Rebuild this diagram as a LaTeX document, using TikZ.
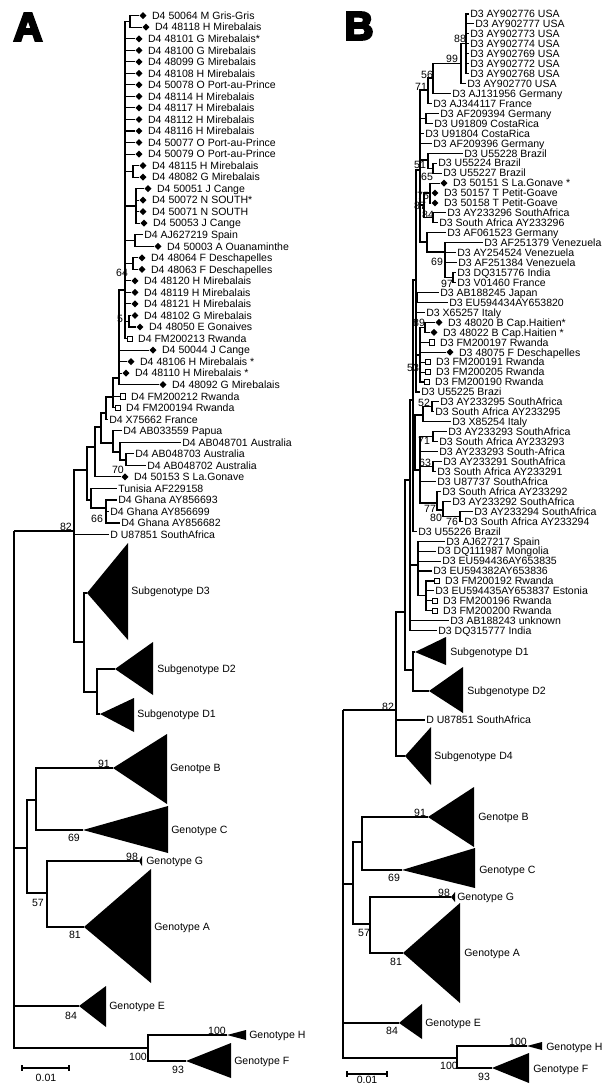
\documentclass[tikz,border=0pt]{standalone}
\usepackage{fontspec}
\setmainfont{Liberation Sans}
\usetikzlibrary{positioning,shapes.geometric}

\begin{document}
\begin{tikzpicture}[x=0.75pt,y=-0.75pt]
\tikzset{
  leaf/.style={anchor=west,inner sep=0.75pt,text height=5.7pt,text depth=0pt,font=\fontsize{7.9}{9}\selectfont},
  boot/.style={inner sep=0pt,text height=5.7pt,text depth=0pt,font=\fontsize{7.9}{9}\selectfont},
  hapmark/.style={diamond,fill=black,inner sep=0pt,minimum width=5.4pt,minimum height=5.4pt},
  rwmark/.style={rectangle,draw=black,line width=0.45pt,fill=white,inner sep=0pt,minimum size=3.9pt},
  branch/.style={draw=black,line width=0.8pt},
  clade/.style={fill=black},
  panel/.style={inner sep=0pt,font=\fontsize{30}{30}\selectfont\bfseries}
}
\useasboundingbox (0,0) rectangle (611,1084);
% panel A
\node[panel] (a_lbl) at (28,27) {\special{pdf:literal direct 2 Tr 1.8 w}A\special{pdf:literal direct 0 Tr 0.4 w}};
\node[hapmark] (a_m0) at (143,15.7) {};
\node[leaf,right=3pt of a_m0] (a_t0) {D4 50064 M Gris-Gris};
\node[hapmark] (a_m1) at (146,27.2) {};
\node[leaf,right=3pt of a_m1] (a_t1) {D4 48118 H Mirebalais};
\node[hapmark] (a_m2) at (139,38.8) {};
\node[leaf,right=3pt of a_m2] (a_t2) {D4 48101 G Mirebalais*};
\node[hapmark] (a_m3) at (139,50.3) {};
\node[leaf,right=3pt of a_m3] (a_t3) {D4 48100 G Mirebalais};
\node[hapmark] (a_m4) at (139,61.8) {};
\node[leaf,right=3pt of a_m4] (a_t4) {D4 48099 G Mirebalais};
\node[hapmark] (a_m5) at (139,73.4) {};
\node[leaf,right=3pt of a_m5] (a_t5) {D4 48108 H Mirebalais};
\node[hapmark] (a_m6) at (139,84.9) {};
\node[leaf,right=3pt of a_m6] (a_t6) {D4 50078 O Port-au-Prince};
\node[hapmark] (a_m7) at (139,96.4) {};
\node[leaf,right=3pt of a_m7] (a_t7) {D4 48114 H Mirebalais};
\node[hapmark] (a_m8) at (139,107.9) {};
\node[leaf,right=3pt of a_m8] (a_t8) {D4 48117 H Mirebalais};
\node[hapmark] (a_m9) at (139,119.5) {};
\node[leaf,right=3pt of a_m9] (a_t9) {D4 48112 H Mirebalais};
\node[hapmark] (a_m10) at (139,131.0) {};
\node[leaf,right=3pt of a_m10] (a_t10) {D4 48116 H Mirebalais};
\node[hapmark] (a_m11) at (139,142.5) {};
\node[leaf,right=3pt of a_m11] (a_t11) {D4 50077 O Port-au-Prince};
\node[hapmark] (a_m12) at (139,154.1) {};
\node[leaf,right=3pt of a_m12] (a_t12) {D4 50079 O Port-au-Prince};
\node[hapmark] (a_m13) at (143,165.6) {};
\node[leaf,right=3pt of a_m13] (a_t13) {D4 48115 H Mirebalais};
\node[hapmark] (a_m14) at (143,177.1) {};
\node[leaf,right=3pt of a_m14] (a_t14) {D4 48082 G Mirebalais};
\node[hapmark] (a_m15) at (148,188.7) {};
\node[leaf,right=3pt of a_m15] (a_t15) {D4 50051 J Cange};
\node[hapmark] (a_m16) at (143,200.2) {};
\node[leaf,right=3pt of a_m16] (a_t16) {D4 50072 N SOUTH*};
\node[hapmark] (a_m17) at (143,211.7) {};
\node[leaf,right=3pt of a_m17] (a_t17) {D4 50071 N SOUTH};
\node[hapmark] (a_m18) at (144,223.2) {};
\node[leaf,right=3pt of a_m18] (a_t18) {D4 50053 J Cange};
\node[leaf] (a_t19) at (143,234.8) {D4 AJ627219 Spain};
\node[hapmark] (a_m20) at (158,246.3) {};
\node[leaf,right=3pt of a_m20] (a_t20) {D4 50003 A Ouanaminthe};
\node[hapmark] (a_m21) at (142,257.8) {};
\node[leaf,right=3pt of a_m21] (a_t21) {D4 48064 F Deschapelles};
\node[hapmark] (a_m22) at (142,269.4) {};
\node[leaf,right=3pt of a_m22] (a_t22) {D4 48063 F Deschapelles};
\node[hapmark] (a_m23) at (135,280.9) {};
\node[leaf,right=3pt of a_m23] (a_t23) {D4 48120 H Mirebalais};
\node[hapmark] (a_m24) at (135,292.4) {};
\node[leaf,right=3pt of a_m24] (a_t24) {D4 48119 H Mirebalais};
\node[hapmark] (a_m25) at (135,303.9) {};
\node[leaf,right=3pt of a_m25] (a_t25) {D4 48121 H Mirebalais};
\node[hapmark] (a_m26) at (135,315.5) {};
\node[leaf,right=3pt of a_m26] (a_t26) {D4 48102 G Mirebalais};
\node[hapmark] (a_m27) at (140,327.0) {};
\node[leaf,right=3pt of a_m27] (a_t27) {D4 48050 E Gonaives};
\node[rwmark] (a_s28) at (130,338.5) {};
\node[leaf,right=3pt of a_s28] (a_t28) {D4 FM200213 Rwanda};
\node[hapmark] (a_m29) at (153,350.1) {};
\node[leaf,right=3pt of a_m29] (a_t29) {D4 50044 J Cange};
\node[hapmark] (a_m30) at (131,361.6) {};
\node[leaf,right=3pt of a_m30] (a_t30) {D4 48106 H Mirebalais *};
\node[hapmark] (a_m31) at (126,373.1) {};
\node[leaf,right=3pt of a_m31] (a_t31) {D4 48110 H Mirebalais *};
\node[hapmark] (a_m32) at (163,384.7) {};
\node[leaf,right=3pt of a_m32] (a_t32) {D4 48092 G Mirebalais};
\node[rwmark] (a_s33) at (123,396.2) {};
\node[leaf,right=3pt of a_s33] (a_t33) {D4 FM200212 Rwanda};
\node[rwmark] (a_s34) at (118,407.7) {};
\node[leaf,right=3pt of a_s34] (a_t34) {D4 FM200194 Rwanda};
\node[leaf] (a_t35) at (108,419.2) {D4 X75662 France};
\node[leaf] (a_t36) at (122,430.8) {D4 AB033559 Papua};
\node[leaf] (a_t37) at (181,442.3) {D4 AB048701 Australia};
\node[leaf] (a_t38) at (134,453.8) {D4 AB048703 Australia};
\node[leaf] (a_t39) at (146,465.4) {D4 AB048702 Australia};
\node[hapmark] (a_m40) at (125,476.9) {};
\node[leaf,right=3pt of a_m40] (a_t40) {D4 50153 S La.Gonave};
\node[leaf] (a_t41) at (117,488.4) {Tunisia AF229158};
\node[leaf] (a_t42) at (117,500.0) {D4 Ghana AY856693};
\node[leaf] (a_t43) at (109,511.5) {D4 Ghana AY856699};
\node[leaf] (a_t44) at (120,523.0) {D4 Ghana AY856682};
\node[leaf] (a_t45) at (109,534.6) {D U87851 SouthAfrica};
\coordinate (a_n_gg) at (130,21.4);
\coordinate (a_n_mg) at (133,171.4);
\coordinate (a_n_cg) at (136,206);
\coordinate (a_n_sp) at (135,240.5);
\coordinate (a_n_de) at (133,263.6);
\coordinate (a_n_go) at (129,321.2);
\coordinate (a_n1) at (125,290);
\coordinate (a_n2) at (119,378);
\coordinate (a_n3) at (113,397);
\coordinate (a_n4) at (106,413);
\coordinate (a_n5) at (113,443);
\coordinate (a_n_au) at (120,452);
\coordinate (a_n_au2) at (126,460);
\coordinate (a_n6) at (101,427);
\coordinate (a_n7) at (95,447);
\coordinate (a_n_gh) at (106,508);
\coordinate (a_n9) at (91,500);
\coordinate (a_n8) at (87,470);
\coordinate (a_n_d) at (74,531);
\coordinate (a_n_d3x) at (84,642);
\coordinate (a_n_d21) at (97,692);
\coordinate (a_root) at (14,531);
\coordinate (a_n_bcag) at (27,848);
\coordinate (a_n_bc) at (36,800);
\coordinate (a_n_ag) at (47,893);
\coordinate (a_n_hf) at (148,1048);
\coordinate (a_c_d3) at (87,593);
\coordinate (a_c_d2) at (115,669);
\coordinate (a_c_d1) at (100,714);
\coordinate (a_c_b) at (113,768);
\coordinate (a_c_c) at (83,830);
\coordinate (a_c_g) at (139,861);
\coordinate (a_c_a) at (84,927);
\coordinate (a_c_e) at (79,1006);
\coordinate (a_c_h) at (227,1035);
\coordinate (a_c_f) at (186,1061);
\fill[clade] (a_c_d3) -- (128,543) -- (128,640) -- cycle;
\fill[clade] (a_c_d2) -- (153,642) -- (153,695) -- cycle;
\fill[clade] (a_c_d1) -- (134,698) -- (134,732) -- cycle;
\fill[clade] (a_c_b) -- (167,734) -- (167,804) -- cycle;
\fill[clade] (a_c_c) -- (168,806) -- (168,853) -- cycle;
\fill[clade] (a_c_g) -- (142,856) -- (142,866) -- cycle;
\fill[clade] (a_c_a) -- (151,869) -- (151,983) -- cycle;
\fill[clade] (a_c_e) -- (106,986) -- (106,1027) -- cycle;
\fill[clade] (a_c_h) -- (246,1030) -- (246,1040) -- cycle;
\fill[clade] (a_c_f) -- (231,1043) -- (231,1078) -- cycle;
\node[leaf] (a_g_d3) at (130,591) {Subgenotype D3};
\node[leaf] (a_g_d2) at (156,669) {Subgenotype D2};
\node[leaf] (a_g_d1) at (136,714) {Subgenotype D1};
\node[leaf] (a_g_b) at (169,768) {Genotpe B};
\node[leaf] (a_g_c) at (170,830) {Genotype C};
\node[leaf] (a_g_g) at (145,861) {Genotype G};
\node[leaf] (a_g_a) at (153,927) {Genotype A};
\node[leaf] (a_g_e) at (108,1006) {Genotype E};
\node[leaf] (a_g_h) at (248,1035) {Genotype H};
\node[leaf] (a_g_f) at (233,1061) {Genotype F};
\node[boot] (a_b_64) at (122,273) {64};
\node[boot] (a_b_5) at (120,319) {5};
\node[boot] (a_b_70) at (118,470) {70};
\node[boot] (a_b_66) at (97,519) {66};
\node[boot] (a_b_82) at (66,527) {82};
\node[boot] (a_b_91) at (104,764) {91};
\node[boot] (a_b_69) at (74,838) {69};
\node[boot] (a_b_98) at (132,857) {98};
\node[boot] (a_b_57) at (38,903) {57};
\node[boot] (a_b_81) at (75,935) {81};
\node[boot] (a_b_84) at (71,1016) {84};
\node[boot] (a_b_100h) at (217,1031) {100};
\node[boot] (a_b_100hf) at (138,1057) {100};
\node[boot] (a_b_93) at (178,1070) {93};
\draw[branch] (a_n_gg) |- (a_m0.west);
\draw[branch] (a_n_gg) |- (a_m1.west);
\draw[branch] (a_n_mg) |- (a_m13.west);
\draw[branch] (a_n_mg) |- (a_m14.west);
\draw[branch] (a_n_cg) |- (a_m15.west);
\draw[branch] (a_n_cg) |- (a_m16.west);
\draw[branch] (a_n_cg) |- (a_m17.west);
\draw[branch] (a_n_cg) |- (a_m18.west);
\draw[branch] (a_n_sp) |- (a_t19.west);
\draw[branch] (a_n_sp) |- (a_m20.west);
\draw[branch] (a_n_de) |- (a_m21.west);
\draw[branch] (a_n_de) |- (a_m22.west);
\draw[branch] (a_n_go) |- (a_m26.west);
\draw[branch] (a_n_go) |- (a_m27.west);
\draw[branch] (a_n1) |- (a_n_gg);
\draw[branch] (a_n1) |- (a_m2.west);
\draw[branch] (a_n1) |- (a_m3.west);
\draw[branch] (a_n1) |- (a_m4.west);
\draw[branch] (a_n1) |- (a_m5.west);
\draw[branch] (a_n1) |- (a_m6.west);
\draw[branch] (a_n1) |- (a_m7.west);
\draw[branch] (a_n1) |- (a_m8.west);
\draw[branch] (a_n1) |- (a_m9.west);
\draw[branch] (a_n1) |- (a_m10.west);
\draw[branch] (a_n1) |- (a_m11.west);
\draw[branch] (a_n1) |- (a_m12.west);
\draw[branch] (a_n1) |- (a_n_mg);
\draw[branch] (a_n1) |- (a_n_cg);
\draw[branch] (a_n1) |- (a_n_sp);
\draw[branch] (a_n1) |- (a_n_de);
\draw[branch] (a_n1) |- (a_m23.west);
\draw[branch] (a_n1) |- (a_m24.west);
\draw[branch] (a_n1) |- (a_m25.west);
\draw[branch] (a_n1) |- (a_n_go);
\draw[branch] (a_n1) |- (a_s28.west);
\draw[branch] (a_n2) |- (a_n1);
\draw[branch] (a_n2) |- (a_m29.west);
\draw[branch] (a_n2) |- (a_m30.west);
\draw[branch] (a_n2) |- (a_m31.west);
\draw[branch] (a_n2) |- (a_m32.west);
\draw[branch] (a_n3) |- (a_n2);
\draw[branch] (a_n3) |- (a_s33.west);
\draw[branch] (a_n3) |- (a_s34.west);
\draw[branch] (a_n4) |- (a_n3);
\draw[branch] (a_n4) |- (a_t35.west);
\draw[branch] (a_n_au2) |- (a_t38.west);
\draw[branch] (a_n_au2) |- (a_t39.west);
\draw[branch] (a_n_au) |- (a_t37.west);
\draw[branch] (a_n_au) |- (a_n_au2);
\draw[branch] (a_n5) |- (a_t36.west);
\draw[branch] (a_n5) |- (a_n_au);
\draw[branch] (a_n6) |- (a_n4);
\draw[branch] (a_n6) |- (a_n5);
\draw[branch] (a_n7) |- (a_n6);
\draw[branch] (a_n7) |- (a_m40.west);
\draw[branch] (a_n_gh) |- (a_t42.west);
\draw[branch] (a_n_gh) |- (a_t43.west);
\draw[branch] (a_n_gh) |- (a_t44.west);
\draw[branch] (a_n9) |- (a_t41.west);
\draw[branch] (a_n9) |- (a_n_gh);
\draw[branch] (a_n8) |- (a_n7);
\draw[branch] (a_n8) |- (a_n9);
\draw[branch] (a_n_d) |- (a_n8);
\draw[branch] (a_n_d) |- (a_t45.west);
\draw[branch] (a_n_d) |- (a_n_d3x);
\draw[branch] (a_n_d3x) |- (a_c_d3);
\draw[branch] (a_n_d3x) |- (a_n_d21);
\draw[branch] (a_n_d21) |- (a_c_d2);
\draw[branch] (a_n_d21) |- (a_c_d1);
\draw[branch] (a_n_bc) |- (a_c_b);
\draw[branch] (a_n_bc) |- (a_c_c);
\draw[branch] (a_n_ag) |- (a_c_g);
\draw[branch] (a_n_ag) |- (a_c_a);
\draw[branch] (a_n_bcag) |- (a_n_bc);
\draw[branch] (a_n_bcag) |- (a_n_ag);
\draw[branch] (a_n_hf) |- (a_c_h);
\draw[branch] (a_n_hf) |- (a_c_f);
\draw[branch] (a_root) |- (a_n_d);
\draw[branch] (a_root) |- (a_n_bcag);
\draw[branch] (a_root) |- (a_c_e);
\draw[branch] (a_root) |- (a_n_hf);
\coordinate (a_sb_l) at (22,1068);
\coordinate (a_sb_r) at (69,1068);
\node[boot] (a_sb_t) at (46,1078) {0.01};
\draw[branch] (a_sb_l) -- (a_sb_r);
\draw[branch] (a_sb_l) ++(0,-3) -- ++(0,6);
\draw[branch] (a_sb_r) ++(0,-3) -- ++(0,6);
% panel B
\node[panel] (b_lbl) at (359,26) {\special{pdf:literal direct 2 Tr 1.8 w}B\special{pdf:literal direct 0 Tr 0.4 w}};
\node[leaf] (b_t0) at (469,14.0) {D3 AY902776 USA};
\node[leaf] (b_t1) at (474,23.9) {D3 AY902777 USA};
\node[leaf] (b_t2) at (469,33.9) {D3 AY902773 USA};
\node[leaf] (b_t3) at (469,43.8) {D3 AY902774 USA};
\node[leaf] (b_t4) at (469,53.8) {D3 AY902769 USA};
\node[leaf] (b_t5) at (469,63.7) {D3 AY902772 USA};
\node[leaf] (b_t6) at (469,73.7) {D3 AY902768 USA};
\node[leaf] (b_t7) at (466,83.6) {D3 AY902770 USA};
\node[leaf] (b_t8) at (451,93.6) {D3 AJ131956 Germany};
\node[leaf] (b_t9) at (432,103.5) {D3 AJ344117 France};
\node[leaf] (b_t10) at (439,113.5) {D3 AF209394 Germany};
\node[leaf] (b_t11) at (433,123.4) {D3 U91809 CostaRica};
\node[leaf] (b_t12) at (424,133.4) {D3 U91804 CostaRica};
\node[leaf] (b_t13) at (432,143.3) {D3 AF209396 Germany};
\node[leaf] (b_t14) at (463,153.3) {D3 U55228 Brazil};
\node[leaf] (b_t15) at (437,163.2) {D3 U55224 Brazil};
\node[leaf] (b_t16) at (442,173.2) {D3 U55227 Brazil};
\node[hapmark] (b_m17) at (444,183.1) {};
\node[leaf,right=3pt of b_m17] (b_t17) {D3 50151 S La.Gonave *};
\node[hapmark] (b_m18) at (435,193.0) {};
\node[leaf,right=3pt of b_m18] (b_t18) {D3 50157 T Petit-Goave};
\node[hapmark] (b_m19) at (435,203.0) {};
\node[leaf,right=3pt of b_m19] (b_t19) {D3 50158 T Petit-Goave};
\node[leaf] (b_t20) at (446,212.9) {D3 AY233296 SouthAfrica};
\node[leaf] (b_t21) at (438,222.9) {D3 South Africa AY233296};
\node[leaf] (b_t22) at (446,232.8) {D3 AF061523 Germany};
\node[leaf] (b_t23) at (483,242.8) {D3 AF251379 Venezuela};
\node[leaf] (b_t24) at (456,252.7) {D3 AY254524 Venezuela};
\node[leaf] (b_t25) at (457,262.7) {D3 AF251384 Venezuela};
\node[leaf] (b_t26) at (456,272.6) {D3 DQ315776 India};
\node[leaf] (b_t27) at (456,282.6) {D3 V01460 France};
\node[leaf] (b_t28) at (439,292.5) {D3 AB188245 Japan};
\node[leaf] (b_t29) at (448,302.5) {D3 EU594434AY653820};
\node[leaf] (b_t30) at (425,312.4) {D3 X65257 Italy};
\node[hapmark] (b_m31) at (439,322.4) {};
\node[leaf,right=3pt of b_m31] (b_t31) {D3 48020 B Cap.Haitien*};
\node[hapmark] (b_m32) at (434,332.3) {};
\node[leaf,right=3pt of b_m32] (b_t32) {D3 48022 B Cap.Haitien *};
\node[rwmark] (b_s33) at (432,342.3) {};
\node[leaf,right=3pt of b_s33] (b_t33) {D3 FM200197 Rwanda};
\node[hapmark] (b_m34) at (450,352.2) {};
\node[leaf,right=3pt of b_m34] (b_t34) {D3 48075 F Deschapelles};
\node[rwmark] (b_s35) at (428,362.1) {};
\node[leaf,right=3pt of b_s35] (b_t35) {D3 FM200191 Rwanda};
\node[rwmark] (b_s36) at (428,372.1) {};
\node[leaf,right=3pt of b_s36] (b_t36) {D3 FM200205 Rwanda};
\node[rwmark] (b_s37) at (427,382.0) {};
\node[leaf,right=3pt of b_s37] (b_t37) {D3 FM200190 Rwanda};
\node[leaf] (b_t38) at (420,392.0) {D3 U55225 Brazi};
\node[leaf] (b_t39) at (439,401.9) {D3 AY233295 SouthAfrica};
\node[leaf] (b_t40) at (434,411.9) {D3 South Africa AY233295};
\node[leaf] (b_t41) at (451,421.8) {D3 X85254 Italy};
\node[leaf] (b_t42) at (447,431.8) {D3 AY233293 SouthAfrica};
\node[leaf] (b_t43) at (438,441.7) {D3 South Africa AY233293};
\node[leaf] (b_t44) at (438,451.7) {D3 AY233293 South-Africa};
\node[leaf] (b_t45) at (442,461.6) {D3 AY233291 SouthAfrica};
\node[leaf] (b_t46) at (436,471.6) {D3 South Africa AY233291};
\node[leaf] (b_t47) at (436,481.5) {D3 U87737 SouthAfrica};
\node[leaf] (b_t48) at (441,491.5) {D3 South Africa AY233292};
\node[leaf] (b_t49) at (451,501.4) {D3 AY233292 SouthAfrica};
\node[leaf] (b_t50) at (473,511.4) {D3 AY233294 SouthAfrica};
\node[leaf] (b_t51) at (463,521.3) {D3 South Africa AY233294};
\node[leaf] (b_t52) at (417,531.2) {D3 U55226 Brazil};
\node[leaf] (b_t53) at (445,541.2) {D3 AJ627217 Spain};
\node[leaf] (b_t54) at (436,551.1) {D3 DQ111987 Mongolia};
\node[leaf] (b_t55) at (441,561.1) {D3 EU594436AY653835};
\node[leaf] (b_t56) at (432,571.0) {D3 EU594382AY653836};
\node[rwmark] (b_s57) at (437,581.0) {};
\node[leaf,right=3pt of b_s57] (b_t57) {D3 FM200192 Rwanda};
\node[leaf] (b_t58) at (434,590.9) {D3 EU594435AY653837 Estonia};
\node[rwmark] (b_s59) at (435,600.9) {};
\node[leaf,right=3pt of b_s59] (b_t59) {D3 FM200196 Rwanda};
\node[rwmark] (b_s60) at (435,610.8) {};
\node[leaf,right=3pt of b_s60] (b_t60) {D3 FM200200 Rwanda};
\node[leaf] (b_t61) at (449,620.7) {D3 AB188243 unknown};
\node[leaf] (b_t62) at (437,630.7) {D3 DQ315777 India};
\node[leaf] (b_t63) at (425,720) {D U87851 SouthAfrica};
\coordinate (b_n_usa) at (466,43.8);
\coordinate (b_n99) at (461,63.7);
\coordinate (b_n56) at (433,78);
\coordinate (b_n71) at (428,90);
\coordinate (b_n_cr) at (426,118.5);
\coordinate (b_n_bz) at (433,168.2);
\coordinate (b_n_br) at (428,160);
\coordinate (b_n_hb) at (430,193);
\coordinate (b_n_sa6) at (433,217.9);
\coordinate (b_n75) at (424,205);
\coordinate (b_n_iv) at (453,277.6);
\coordinate (b_n_ven) at (445,252);
\coordinate (b_n_ger) at (427,242);
\coordinate (b_n_top) at (420,170);
\coordinate (b_n_jp) at (417,297.5);
\coordinate (b_n_cap) at (425,327.4);
\coordinate (b_n53) at (420,355);
\coordinate (b_n_bb1) at (416,280);
\coordinate (b_n52) at (432,406.9);
\coordinate (b_n_it) at (423,415);
\coordinate (b_n71b) at (433,436.8);
\coordinate (b_n63) at (433,466.6);
\coordinate (b_n76) at (460,516.4);
\coordinate (b_n80) at (443,510);
\coordinate (b_n77) at (437,503);
\coordinate (b_n_sa) at (420,470);
\coordinate (b_n_sa2) at (415,455);
\coordinate (b_n_bb2) at (413,400);
\coordinate (b_n_rw) at (426,595.9);
\coordinate (b_n_sp) at (418,565);
\coordinate (b_n_d3) at (410,480);
\coordinate (b_n_d12) at (413,670);
\coordinate (b_n_d3x) at (405,612);
\coordinate (b_n_d) at (396,710);
\coordinate (b_root) at (343,710);
\coordinate (b_n_bcag) at (353,884);
\coordinate (b_n_bc) at (362,842);
\coordinate (b_n_ag) at (370,924);
\coordinate (b_n_hf) at (457,1058);
\coordinate (b_c_d1) at (415,652);
\coordinate (b_c_d2) at (429,691);
\coordinate (b_c_d4) at (405,756);
\coordinate (b_c_b) at (428,817);
\coordinate (b_c_c) at (402,870);
\coordinate (b_c_g) at (451,897);
\coordinate (b_c_a) at (403,953);
\coordinate (b_c_e) at (399,1023);
\coordinate (b_c_h) at (527,1046);
\coordinate (b_c_f) at (492,1068);
\fill[clade] (b_c_d1) -- (446,637) -- (446,665) -- cycle;
\fill[clade] (b_c_d2) -- (463,667) -- (463,713) -- cycle;
\fill[clade] (b_c_d4) -- (431,727) -- (431,785) -- cycle;
\fill[clade] (b_c_b) -- (474,787) -- (474,847) -- cycle;
\fill[clade] (b_c_c) -- (475,848) -- (475,888) -- cycle;
\fill[clade] (b_c_g) -- (455,892) -- (455,902) -- cycle;
\fill[clade] (b_c_a) -- (460,903) -- (460,1003) -- cycle;
\fill[clade] (b_c_e) -- (422,1004) -- (422,1039) -- cycle;
\fill[clade] (b_c_h) -- (542,1042) -- (542,1050) -- cycle;
\fill[clade] (b_c_f) -- (529,1053) -- (529,1083) -- cycle;
\node[leaf] (b_g_d1) at (449,652) {Subgenotype D1};
\node[leaf] (b_g_d2) at (466,691) {Subgenotype D2};
\node[leaf] (b_g_d4) at (433,756) {Subgenotype D4};
\node[leaf] (b_g_b) at (477,817) {Genotpe B};
\node[leaf] (b_g_c) at (478,870) {Genotype C};
\node[leaf] (b_g_g) at (456,897) {Genotype G};
\node[leaf] (b_g_a) at (463,953) {Genotype A};
\node[leaf] (b_g_e) at (424,1023) {Genotype E};
\node[leaf] (b_g_h) at (545,1047) {Genotype H};
\node[leaf] (b_g_f) at (532,1069) {Genotype F};
\node[boot] (b_b_88) at (460,39) {88};
\node[boot] (b_b_99) at (452,59) {99};
\node[boot] (b_b_56) at (427,75) {56};
\node[boot] (b_b_71) at (421,87) {71};
\node[boot] (b_b_51) at (420,165) {51};
\node[boot] (b_b_65) at (427,177) {65};
\node[boot] (b_b_75) at (423,196) {75};
\node[boot] (b_b_87) at (420,206) {87};
\node[boot] (b_b_84) at (428,215) {84};
\node[boot] (b_b_69) at (437,262) {69};
\node[boot] (b_b_97) at (447,283.5) {97};
\node[boot] (b_b_89) at (419,323) {89};
\node[boot] (b_b_53) at (413,368) {53};
\node[boot] (b_b_52) at (424,403) {52};
\node[boot] (b_b_71b) at (424,441) {71};
\node[boot] (b_b_63) at (425,463) {63};
\node[boot] (b_b_77) at (430,509) {77};
\node[boot] (b_b_80) at (436,518) {80};
\node[boot] (b_b_76) at (452,521.5) {76};
\node[boot] (b_b_82) at (388,707) {82};
\node[boot] (b_b_91) at (420,813) {91};
\node[boot] (b_b_69b) at (394,878) {69};
\node[boot] (b_b_98) at (444,893) {98};
\node[boot] (b_b_57) at (364,933) {57};
\node[boot] (b_b_81) at (396,962) {81};
\node[boot] (b_b_84b) at (392,1031) {84};
\node[boot] (b_b_100h) at (518,1042) {100};
\node[boot] (b_b_100hf) at (449,1066) {100};
\node[boot] (b_b_93) at (484,1077) {93};
\draw[branch] (b_n_usa) |- (b_t0.west);
\draw[branch] (b_n_usa) |- (b_t1.west);
\draw[branch] (b_n_usa) |- (b_t2.west);
\draw[branch] (b_n_usa) |- (b_t3.west);
\draw[branch] (b_n_usa) |- (b_t4.west);
\draw[branch] (b_n_usa) |- (b_t5.west);
\draw[branch] (b_n_usa) |- (b_t6.west);
\draw[branch] (b_n99) |- (b_n_usa);
\draw[branch] (b_n99) |- (b_t7.west);
\draw[branch] (b_n56) |- (b_n99);
\draw[branch] (b_n56) |- (b_t8.west);
\draw[branch] (b_n71) |- (b_n56);
\draw[branch] (b_n71) |- (b_t9.west);
\draw[branch] (b_n_cr) |- (b_t10.west);
\draw[branch] (b_n_cr) |- (b_t11.west);
\draw[branch] (b_n_bz) |- (b_t15.west);
\draw[branch] (b_n_bz) |- (b_t16.west);
\draw[branch] (b_n_br) |- (b_t14.west);
\draw[branch] (b_n_br) |- (b_n_bz);
\draw[branch] (b_n_hb) |- (b_m17.west);
\draw[branch] (b_n_hb) |- (b_m18.west);
\draw[branch] (b_n_hb) |- (b_m19.west);
\draw[branch] (b_n_sa6) |- (b_t20.west);
\draw[branch] (b_n_sa6) |- (b_t21.west);
\draw[branch] (b_n75) |- (b_n_hb);
\draw[branch] (b_n75) |- (b_n_sa6);
\draw[branch] (b_n_iv) |- (b_t26.west);
\draw[branch] (b_n_iv) |- (b_t27.west);
\draw[branch] (b_n_ven) |- (b_t23.west);
\draw[branch] (b_n_ven) |- (b_t24.west);
\draw[branch] (b_n_ven) |- (b_t25.west);
\draw[branch] (b_n_ven) |- (b_n_iv);
\draw[branch] (b_n_ger) |- (b_t22.west);
\draw[branch] (b_n_ger) |- (b_n_ven);
\draw[branch] (b_n_top) |- (b_n71);
\draw[branch] (b_n_top) |- (b_n_cr);
\draw[branch] (b_n_top) |- (b_t12.west);
\draw[branch] (b_n_top) |- (b_t13.west);
\draw[branch] (b_n_top) |- (b_n_br);
\draw[branch] (b_n_top) |- (b_n75);
\draw[branch] (b_n_top) |- (b_n_ger);
\draw[branch] (b_n_jp) |- (b_t28.west);
\draw[branch] (b_n_jp) |- (b_t29.west);
\draw[branch] (b_n_cap) |- (b_m31.west);
\draw[branch] (b_n_cap) |- (b_m32.west);
\draw[branch] (b_n53) |- (b_n_cap);
\draw[branch] (b_n53) |- (b_s33.west);
\draw[branch] (b_n53) |- (b_m34.west);
\draw[branch] (b_n53) |- (b_s35.west);
\draw[branch] (b_n53) |- (b_s36.west);
\draw[branch] (b_n53) |- (b_s37.west);
\draw[branch] (b_n_bb1) |- (b_n_top);
\draw[branch] (b_n_bb1) |- (b_n_jp);
\draw[branch] (b_n_bb1) |- (b_t30.west);
\draw[branch] (b_n_bb1) |- (b_n53);
\draw[branch] (b_n_bb1) |- (b_t38.west);
\draw[branch] (b_n52) |- (b_t39.west);
\draw[branch] (b_n52) |- (b_t40.west);
\draw[branch] (b_n_it) |- (b_n52);
\draw[branch] (b_n_it) |- (b_t41.west);
\draw[branch] (b_n71b) |- (b_t42.west);
\draw[branch] (b_n71b) |- (b_t43.west);
\draw[branch] (b_n63) |- (b_t45.west);
\draw[branch] (b_n63) |- (b_t46.west);
\draw[branch] (b_n76) |- (b_t50.west);
\draw[branch] (b_n76) |- (b_t51.west);
\draw[branch] (b_n80) |- (b_t49.west);
\draw[branch] (b_n80) |- (b_n76);
\draw[branch] (b_n77) |- (b_t48.west);
\draw[branch] (b_n77) |- (b_n80);
\draw[branch] (b_n_sa) |- (b_n71b);
\draw[branch] (b_n_sa) |- (b_t44.west);
\draw[branch] (b_n_sa) |- (b_n63);
\draw[branch] (b_n_sa) |- (b_t47.west);
\draw[branch] (b_n_sa) |- (b_n77);
\draw[branch] (b_n_sa2) |- (b_n_it);
\draw[branch] (b_n_sa2) |- (b_n_sa);
\draw[branch] (b_n_bb2) |- (b_n_bb1);
\draw[branch] (b_n_bb2) |- (b_n_sa2);
\draw[branch] (b_n_bb2) |- (b_t52.west);
\draw[branch] (b_n_rw) |- (b_s57.west);
\draw[branch] (b_n_rw) |- (b_t58.west);
\draw[branch] (b_n_rw) |- (b_s59.west);
\draw[branch] (b_n_rw) |- (b_s60.west);
\draw[branch] (b_n_sp) |- (b_t53.west);
\draw[branch] (b_n_sp) |- (b_t54.west);
\draw[branch] (b_n_sp) |- (b_t55.west);
\draw[branch] (b_n_sp) |- (b_t56.west);
\draw[branch] (b_n_sp) |- (b_n_rw);
\draw[branch] (b_n_d3) |- (b_n_bb2);
\draw[branch] (b_n_d3) |- (b_n_sp);
\draw[branch] (b_n_d3) |- (b_t61.west);
\draw[branch] (b_n_d3) |- (b_t62.west);
\draw[branch] (b_n_d12) |- (b_c_d1);
\draw[branch] (b_n_d12) |- (b_c_d2);
\draw[branch] (b_n_d3x) |- (b_n_d3);
\draw[branch] (b_n_d3x) |- (b_n_d12);
\draw[branch] (b_n_d) |- (b_n_d3x);
\draw[branch] (b_n_d) |- (b_t63.west);
\draw[branch] (b_n_d) |- (b_c_d4);
\draw[branch] (b_n_bc) |- (b_c_b);
\draw[branch] (b_n_bc) |- (b_c_c);
\draw[branch] (b_n_ag) |- (b_c_g);
\draw[branch] (b_n_ag) |- (b_c_a);
\draw[branch] (b_n_bcag) |- (b_n_bc);
\draw[branch] (b_n_bcag) |- (b_n_ag);
\draw[branch] (b_n_hf) |- (b_c_h);
\draw[branch] (b_n_hf) |- (b_c_f);
\draw[branch] (b_root) |- (b_n_d);
\draw[branch] (b_root) |- (b_n_bcag);
\draw[branch] (b_root) |- (b_c_e);
\draw[branch] (b_root) |- (b_n_hf);
\coordinate (b_sb_l) at (347,1074);
\coordinate (b_sb_r) at (387,1074);
\node[boot] (b_sb_t) at (367,1080) {0.01};
\draw[branch] (b_sb_l) -- (b_sb_r);
\draw[branch] (b_sb_l) ++(0,-3) -- ++(0,6);
\draw[branch] (b_sb_r) ++(0,-3) -- ++(0,6);
\end{tikzpicture}
\end{document}
